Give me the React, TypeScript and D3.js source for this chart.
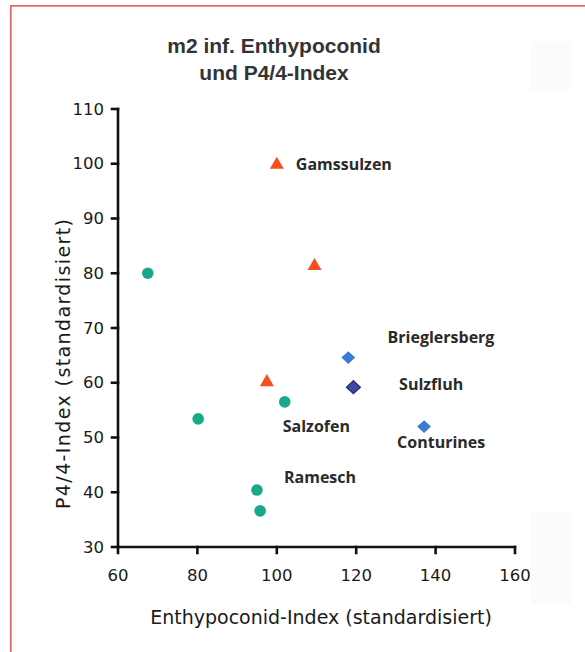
import React from "react";
import * as d3 from "d3";

const W = 585;
const H = 652;

const titleLines = ["m2 inf. Enthypoconid", "und P4/4-Index"];
const xTitle = "Enthypoconid-Index (standardisiert)";
const yTitle = "P4/4-Index (standardisiert)";

const xDomain = [60, 160];
const yDomain = [30, 110];
const xTicks = [60, 80, 100, 120, 140, 160];
const yTicks = [30, 40, 50, 60, 70, 80, 90, 100, 110];

// Triangles (orange-red)
const triX = [100, 109.5, 97.5];
const triY = [100, 81.5, 60.3];
// Circles (teal)
const circX = [67.5, 80.2, 102, 95, 95.8];
const circY = [80, 53.4, 56.5, 40.4, 36.6];
// Diamonds (blue)
const diaX = [118, 119.3, 137.1];
const diaY = [64.6, 59.2, 52.0];
const diaKind = ["light", "dark", "light"];

// Site labels (anchored in data units)
const labelText = ["Gamssulzen", "Brieglersberg", "Sulzfluh", "Salzofen", "Conturines", "Ramesch"];
const labelX = [104.8, 127.9, 130.8, 101.5, 130.3, 101.8];
const labelY = [100, 68.4, 59.8, 52.1, 49.2, 42.8];

export default function App() {
  const x = d3.scaleLinear().domain(xDomain).range([118, 515]);
  const y = d3.scaleLinear().domain(yDomain).range([547, 109]);

  const tri = d3.symbol().type(d3.symbolTriangle).size(85)();
  const dia = d3.line()([
    [0, -6.4],
    [6.9, 0],
    [0, 6.4],
    [-6.9, 0],
  ]) + "Z";

  const tickFont = "'DejaVu Sans', Verdana, sans-serif";
  const labelFont = "'Open Sans', 'Liberation Sans', sans-serif";

  return (
    <svg
      width={W}
      height={H}
      style={{ position: "absolute", left: 0, top: 0, display: "block", background: "#fff" }}
    >
      <rect x={0} y={0} width={W} height={H} fill="#fff" />
      {/* faint artifacts on the right */}
      <rect x={531} y={42} width={40} height={48} fill="#fcfafa" />
      <rect x={531} y={512} width={40} height={92} fill="#fcfafa" />
      {/* red frame */}
      <line x1={10.8} y1={5} x2={10.8} y2={H} stroke="#e06a6a" strokeWidth={1.8} />
      <line x1={10} y1={5.8} x2={W} y2={5.8} stroke="#e06a6a" strokeWidth={1.8} />

      {/* title */}
      <g fontFamily="'Liberation Sans', Arial, Helvetica, sans-serif" fontWeight="bold" fontSize={21} fill="#333" textAnchor="middle">
        {titleLines.map((t, i) => (
          <text key={t} x={274} y={45 + i * 27} dominantBaseline="central">
            {t}
          </text>
        ))}
      </g>

      {/* axes */}
      <g stroke="#111" strokeWidth={2.6} fill="none" strokeLinecap="square">
        <line x1={x(xDomain[0])} y1={y(yDomain[1])} x2={x(xDomain[0])} y2={y(yDomain[0])} />
        <line x1={x(xDomain[0])} y1={y(yDomain[0])} x2={x(xDomain[1])} y2={y(yDomain[0])} />
        {yTicks.map((t) => (
          <line key={"yt" + t} x1={x(xDomain[0]) - 6} y1={y(t)} x2={x(xDomain[0])} y2={y(t)} />
        ))}
        {xTicks.map((t) => (
          <line key={"xt" + t} x1={x(t)} y1={y(yDomain[0])} x2={x(t)} y2={y(yDomain[0]) + 6} />
        ))}
      </g>
      <g fontFamily={tickFont} fontSize={16.5} fill="#1a1a1a">
        {yTicks.map((t) => (
          <text key={"yl" + t} x={104} y={y(t)} textAnchor="end" dominantBaseline="central">
            {t}
          </text>
        ))}
        {xTicks.map((t) => (
          <text key={"xl" + t} x={x(t)} y={575} textAnchor="middle" dominantBaseline="central">
            {t}
          </text>
        ))}
      </g>

      {/* axis titles */}
      <text
        x={321}
        y={617}
        textAnchor="middle"
        dominantBaseline="central"
        fontFamily={tickFont}
        fontSize={19}
        fill="#1a1a1a"
      >
        {xTitle}
      </text>
      <text
        transform={`translate(63,364) rotate(-90)`}
        textAnchor="middle"
        dominantBaseline="central"
        fontFamily={tickFont}
        fontSize={19}
        fill="#1a1a1a"
        textLength={290}
        lengthAdjust="spacing"
      >
        {yTitle}
      </text>

      {/* marks */}
      {circX.map((cx, i) => (
        <circle key={"c" + i} cx={x(cx)} cy={y(circY[i])} r={5.8} fill="#18a98b" />
      ))}
      {triX.map((tx, i) => (
        <path key={"t" + i} d={tri} transform={`translate(${x(tx)},${y(triY[i]) + 1})`} fill="#f2501f" />
      ))}
      {diaX.map((dx, i) => (
        <path
          key={"d" + i}
          d={dia}
          transform={`translate(${x(dx)},${y(diaY[i])})`}
          fill={diaKind[i] === "dark" ? "#3f4aa8" : "#3b7bd0"}
          stroke={diaKind[i] === "dark" ? "#262c78" : "none"}
          strokeWidth={1.3}
        />
      ))}

      {/* labels */}
      <g fontFamily={labelFont} fontWeight={700} fontSize={16} fill="#2a2a2a">
        {labelText.map((t, i) => (
          <text key={t} x={x(labelX[i])} y={y(labelY[i])} dominantBaseline="central">
            {t}
          </text>
        ))}
      </g>
    </svg>
  );
}
